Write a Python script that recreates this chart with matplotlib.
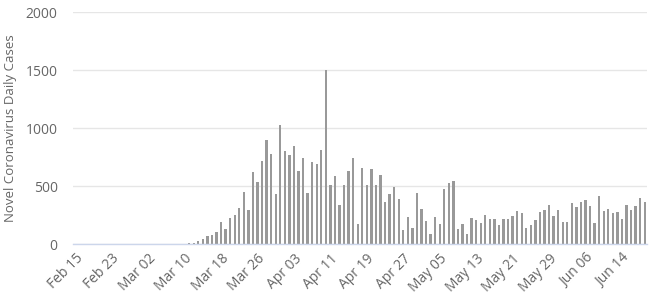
import numpy as np
import pandas as pd
import matplotlib
matplotlib.use('Agg')
import matplotlib.pyplot as plt

# daily new cases, Feb 15 .. Jun 19 2020
start_date = '2020-02-15'
cases = [0] * 25 + [
    5, 6, 23, 46, 65, 75, 100, 187, 129, 221,
    250, 307, 446, 290, 619, 534, 715, 894, 779, 431,
    1025, 799, 770, 843, 629, 740, 440, 704, 687, 809,
    1500, 507, 590, 338, 509, 630, 740, 170, 655, 509,
    647, 509, 592, 366, 431, 489, 385, 121, 235, 140,
    441, 302, 198, 85, 234, 170, 471, 526, 545, 129,
    170, 86, 224, 207, 180, 251, 216, 216, 160, 216,
    216, 243, 282, 264, 140, 160, 207, 273, 290, 336,
    241, 290, 190, 190, 356, 319, 365, 376, 328, 178,
    414, 282, 302, 264, 273, 216, 339, 290, 328, 400,
    362,
]
y_ticks = [0, 500, 1000, 1500, 2000]
y_label = 'Novel Coronavirus Daily Cases'
label_step = 8

dates = pd.date_range(start_date, periods=len(cases), freq='D')
x = np.arange(len(cases))

plt.rcParams['font.family'] = ['Open Sans', 'DejaVu Sans']

fig = plt.figure(figsize=(6.54, 2.94), dpi=100)
ax = fig.add_axes([73 / 654, 50 / 294, 574 / 654, 232 / 294])

ax.bar(x, cases, width=0.5, color='#999999', edgecolor='none', zorder=3)

ax.set_xlim(-0.5, len(cases) - 0.5)
ax.set_ylim(0, 2000)
ax.set_yticks(y_ticks)
ax.set_yticklabels([str(v) for v in y_ticks])
ax.yaxis.grid(True, color='#e6e6e6', linewidth=1, zorder=0)

tick_idx = x[::label_step]
ax.set_xticks(tick_idx)
ax.set_xticklabels([d.strftime('%b %d') for d in dates[::label_step]],
                   rotation=45, ha='right', rotation_mode='anchor')

ax.tick_params(axis='both', length=0, labelsize=10, labelcolor='#666666')
ax.tick_params(axis='y', pad=11)
ax.tick_params(axis='x', pad=5)

for side in ['top', 'right', 'left']:
    ax.spines[side].set_visible(False)
ax.spines['bottom'].set_color('#ccd6eb')
ax.spines['bottom'].set_linewidth(1)
ax.spines['bottom'].set_zorder(4)

ax.set_ylabel(y_label, fontsize=9.5, color='#666666')
ax.yaxis.set_label_coords(-56 / 574, 0.5)

fig.savefig('out.png', dpi=100)
